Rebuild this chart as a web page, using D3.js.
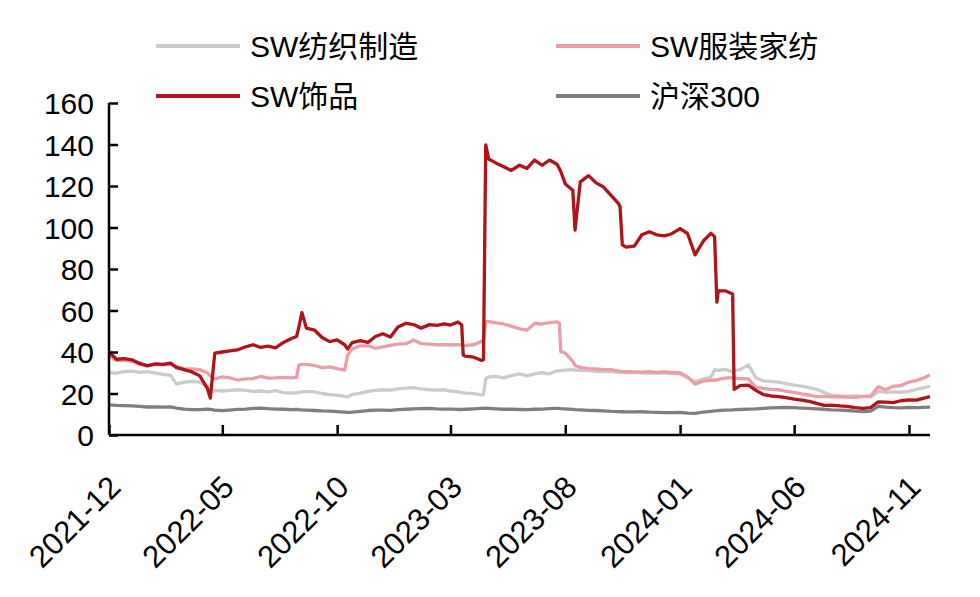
<!DOCTYPE html>
<html>
<head>
<meta charset="utf-8">
<script src="https://cdn.jsdelivr.net/npm/d3@7"></script>
<style>
  html, body { margin: 0; padding: 0; background: #ffffff; }
  svg { display: block; }
  text { font-family: "Liberation Sans", Arial, "Noto Sans CJK SC", sans-serif; }
</style>
</head>
<body>
<svg id="chart" width="980" height="597"></svg>
<script>

// observation dates (shared by all series)
const dates = [
  '2021-12-01', '2021-12-11', '2021-12-21',
  '2022-01-01', '2022-01-11', '2022-01-21',
  '2022-02-01', '2022-02-11', '2022-02-21',
  '2022-03-01', '2022-03-11', '2022-03-21',
  '2022-04-01', '2022-04-11', '2022-04-15', '2022-04-21',
  '2022-05-01', '2022-05-11', '2022-05-21',
  '2022-06-01', '2022-06-11', '2022-06-21',
  '2022-07-01', '2022-07-11', '2022-07-21',
  '2022-08-01', '2022-08-08', '2022-08-11', '2022-08-15', '2022-08-21',
  '2022-09-01', '2022-09-11', '2022-09-21',
  '2022-10-01', '2022-10-11', '2022-10-15', '2022-10-21',
  '2022-11-01', '2022-11-11', '2022-11-21',
  '2022-12-01', '2022-12-11', '2022-12-21',
  '2023-01-01', '2023-01-11', '2023-01-21',
  '2023-02-01', '2023-02-11', '2023-02-21',
  '2023-03-01', '2023-03-11', '2023-03-16', '2023-03-18', '2023-03-21',
  '2023-04-01', '2023-04-11', '2023-04-14', '2023-04-17', '2023-04-21',
  '2023-05-01', '2023-05-11', '2023-05-21',
  '2023-06-01', '2023-06-11', '2023-06-21',
  '2023-07-01', '2023-07-11', '2023-07-21', '2023-07-24', '2023-07-26',
  '2023-08-01', '2023-08-11', '2023-08-14', '2023-08-21',
  '2023-09-01', '2023-09-11', '2023-09-21',
  '2023-10-01', '2023-10-11', '2023-10-13', '2023-10-16', '2023-10-21',
  '2023-11-01', '2023-11-11', '2023-11-21',
  '2023-12-01', '2023-12-11', '2023-12-21',
  '2024-01-01', '2024-01-11', '2024-01-21',
  '2024-02-01', '2024-02-11', '2024-02-16', '2024-02-19', '2024-02-21',
  '2024-03-01', '2024-03-11', '2024-03-13', '2024-03-21',
  '2024-04-01', '2024-04-11', '2024-04-21',
  '2024-05-01', '2024-05-11', '2024-05-21',
  '2024-06-01', '2024-06-11', '2024-06-21',
  '2024-07-01', '2024-07-11', '2024-07-21',
  '2024-08-01', '2024-08-11', '2024-08-21',
  '2024-09-01', '2024-09-11', '2024-09-21',
  '2024-10-01', '2024-10-11', '2024-10-21',
  '2024-11-01', '2024-11-11', '2024-11-21', '2024-11-29'
];

// SW纺织制造
const textileValues = [
  30, 29.8, 30.5,
  30.8, 30.2, 30.5,
  29.8, 29.2, 28.8,
  24.5, 25.5, 25.8,
  25.5, 23.3, 20.5, 21.5,
  21.2, 21.5, 21.8,
  21.5, 21, 21.2,
  20.8, 21.4, 20.4,
  20.2, 20.4, 20.6, 20.8, 21,
  20.8, 20, 19.4,
  19.2, 18.6, 18.4, 19.5,
  20.2, 21, 21.5,
  21.8, 21.6, 22.2,
  22.6, 22.8, 22.2,
  21.8, 21.6, 21.8,
  21.2, 20.8, 20.5, 20.4, 20.2,
  20, 19.3, 19.5, 27, 28,
  28.2, 27.5, 28.6,
  29.5, 28.5, 29.5,
  30, 29.5, 31, 30.8, 31,
  31.2, 31.5, 31.3, 31.2,
  31, 30.7, 30.6,
  30.5, 30.3, 30.2, 30.2, 30,
  30.2, 30, 29.8,
  30, 29.8, 29.6,
  29.5, 27.5, 25.8,
  27, 27.8, 31.5, 31.3, 31.2,
  31.5, 30.5, 31, 31.5,
  33.8, 27.6, 26,
  25.8, 25.5, 24.8,
  24, 23.5, 22.8,
  22, 20.5, 19.2,
  18.8, 18.6, 18.8,
  18.5, 18.4, 21,
  20.5, 20.8, 20.6,
  21, 22, 22.8, 23.5
];

// SW服装家纺
const apparelValues = [
  38, 36, 36,
  35.5, 34, 33.5,
  34, 33.8, 34,
  33, 32, 31.8,
  31.5, 30, 28.5, 27,
  28, 27.5, 26.5,
  27, 27.2, 28.2,
  27.4, 27.5, 27.8,
  27.5, 27.8, 33.7, 34, 34,
  33.5, 32.5, 32.8,
  32, 31.3, 38.5, 41.5,
  43, 43, 41.8,
  42.5, 43.2, 43.8,
  44, 45.8, 44,
  43.8, 43.5, 43.6,
  43.4, 43.6, 43.5, 43.3, 43.2,
  43.5, 45, 45.8, 54.6, 54.6,
  54, 53.5, 52.5,
  51.2, 50.5, 53.8,
  53.5, 54.2, 54.5, 54, 40.2,
  39.5, 35.5, 33.5, 32.6,
  32, 31.8, 31.5,
  31.5, 30.8, 30.6, 30.5, 30.5,
  30.4, 30.3, 30.5,
  30.2, 30.4, 30.2,
  30, 28, 24.5,
  26, 26.3, 26.5, 26.5, 26.8,
  27.4, 27.6, 27.4, 27.2,
  27, 23, 22.5,
  22, 21.8, 21.2,
  20.5, 19.8, 19.2,
  18.5, 18.6, 18.4,
  18.5, 18.3, 18.2,
  18.6, 18.8, 23.3,
  21.8, 23.5, 23.8,
  25.5, 26.3, 27.5, 29
];

// SW饰品
const jewelryValues = [
  40, 36.5, 36.8,
  36.2, 34.5, 33.3,
  34.3, 34, 34.6,
  32.5, 31.5, 30.5,
  28.5, 22.5, 17.8, 39.5,
  40, 40.5, 41,
  42.5, 43.5, 42.2,
  42.8, 42, 44.5,
  46.5, 47.5, 52, 59, 51.5,
  50.5, 47, 45,
  45.8, 43.5, 41.4, 44.5,
  45.5, 44.6, 47.5,
  48.8, 47.2, 52,
  53.8, 53.2, 51.5,
  53.2, 52.8, 53.5,
  53, 54.5, 53, 38.5, 38,
  37.5, 36, 36.3, 139.8, 133,
  131, 129.3, 127.5,
  130, 128.5, 132.5,
  130, 132.5, 130.5, 128.5, 127,
  121, 118, 98.8, 122,
  125, 121.5, 119.5,
  115.5, 111.5, 110, 91.6, 90.5,
  91, 96.5, 98,
  96.5, 96, 97,
  99.5, 97, 86.8,
  93.5, 97.2, 95.6, 64, 69.5,
  69.5, 68, 22, 23.8,
  24, 21.5, 19.5,
  18.8, 18.5, 18,
  17.3, 16.8, 16.2,
  15.2, 14.3, 14.4,
  14, 13.8, 13.2,
  12.8, 13.2, 16,
  15.8, 15.6, 16.5,
  16.9, 16.8, 17.8, 18.5
];

// 沪深300
const csi300Values = [
  14.5, 14.3, 14.2,
  14, 13.8, 13.5,
  13.6, 13.4, 13.5,
  13, 12.5, 12.2,
  12.2, 12.5, 12.3, 12,
  11.7, 12, 12.3,
  12.5, 12.8, 13,
  12.7, 12.5, 12.4,
  12.2, 12.3, 12.2, 12.1, 12,
  11.8, 11.6, 11.5,
  11.3, 11, 10.9, 11,
  11.4, 11.8, 12,
  12, 11.9, 12.2,
  12.4, 12.6, 12.7,
  12.8, 12.6, 12.5,
  12.5, 12.3, 12.3, 12.3, 12.4,
  12.6, 12.8, 12.8, 12.9, 12.8,
  12.6, 12.4, 12.4,
  12.3, 12.2, 12.4,
  12.5, 12.7, 12.8, 12.8, 12.7,
  12.6, 12.3, 12.2, 12.1,
  11.9, 11.8, 11.6,
  11.4, 11.3, 11.2, 11.2, 11.1,
  11.1, 11.2, 11,
  10.9, 10.8, 10.8,
  10.9, 10.5, 10.4,
  11, 11.4, 11.6, 11.7, 11.8,
  12, 12.1, 12.2, 12.3,
  12.5, 12.6, 12.8,
  13.1, 13.2, 13.3,
  13.2, 13, 12.8,
  12.6, 12.4, 12.1,
  12, 11.8, 11.5,
  11.3, 11.5, 13.8,
  13.4, 13.2, 13.1,
  13.3, 13.2, 13.3, 13.4
];

const seriesNames = ['SW纺织制造', 'SW服装家纺', 'SW饰品', '沪深300'];
const xTickLabels = ['2021-12', '2022-05', '2022-10', '2023-03', '2023-08', '2024-01', '2024-06', '2024-11'];
const yTickValues = [0, 20, 40, 60, 80, 100, 120, 140, 160];


/**
 * @class
 */
class ValuationChart {


  /**
   * @constructor
   * @param {SVGElement} svg
   */
  constructor(svg) {

    this._svg = d3.select(svg);
    this._margin = { left: 109, right: 50, top: 103, bottom: 162 };
    this._colors = ['#cbcbcb', '#eb9ea7', '#af141b', '#7f7f7f'];
    this._fontSize = 30;
  }


  /**
   * Set data.
   * @param {Array} series
   * @returns {ValuationChart}
   */
  setData(series) {

    this._series = series;
    return this;
  }


  /**
   * Build scales.
   * @returns {ValuationChart}
   */
  buildScales() {

    const width = +this._svg.attr('width');
    const height = +this._svg.attr('height');
    const parse = d3.timeParse('%Y-%m-%d');

    this._dates = dates.map(parse);

    this._xScale = d3.scaleTime()
      .domain(d3.extent(this._dates))
      .range([this._margin.left, width - this._margin.right]);

    this._yScale = d3.scaleLinear()
      .domain([0, 160])
      .range([height - this._margin.bottom, this._margin.top]);

    return this;
  }


  /**
   * Render everything.
   * @returns {ValuationChart}
   */
  render() {

    this.buildScales();
    this.renderLines();
    this.renderAxes();
    this.renderLegend();
    return this;
  }


  /**
   * Draw the four series.
   * @returns {ValuationChart}
   */
  renderLines() {

    const line = d3.line()
      .x((d, i) => this._xScale(this._dates[i]))
      .y(d => this._yScale(d));

    this._svg.append('g')
      .attr('class', 'lines')
      .selectAll('path')
      .data(this._series)
      .enter()
      .append('path')
      .attr('d', d => line(d.values))
      .style('fill', 'none')
      .style('stroke', (d, i) => this._colors[i])
      .style('stroke-width', 3.3)
      .style('stroke-linejoin', 'round');

    return this;
  }


  /**
   * Draw axes with inward ticks.
   * @returns {ValuationChart}
   */
  renderAxes() {

    const y0 = this._yScale(0);
    const parseMonth = d3.timeParse('%Y-%m');

    const yAxis = d3.axisLeft(this._yScale)
      .tickValues(yTickValues)
      .tickSize(-9)
      .tickPadding(15);

    const yAxisG = this._svg.append('g')
      .attr('transform', `translate(${this._margin.left},0)`)
      .call(yAxis);

    yAxisG.select('.domain')
      .attr('d', `M0,${this._yScale(160)}V${y0}`)
      .style('stroke', '#000')
      .style('stroke-width', 2.5);

    yAxisG.selectAll('.tick line')
      .style('stroke', '#000')
      .style('stroke-width', 2.5);

    yAxisG.selectAll('.tick text')
      .style('font-size', this._fontSize + 'px')
      .style('fill', '#000')
      .attr('dy', '0.35em');

    const xAxis = d3.axisBottom(this._xScale)
      .tickValues(xTickLabels.map(parseMonth))
      .tickSize(-10)
      .tickFormat(d3.timeFormat('%Y-%m'));

    const xAxisG = this._svg.append('g')
      .attr('transform', `translate(0,${y0})`)
      .call(xAxis);

    xAxisG.select('.domain')
      .attr('d', `M${this._margin.left},0H${this._xScale.range()[1]}`)
      .style('stroke', '#000')
      .style('stroke-width', 2.5);

    xAxisG.selectAll('.tick line')
      .style('stroke', '#000')
      .style('stroke-width', 2.5);

    xAxisG.selectAll('.tick text')
      .style('font-size', '31px')
      .style('fill', '#000')
      .attr('text-anchor', 'end')
      .attr('x', 0)
      .attr('y', 0)
      .attr('dy', 0)
      .attr('transform', 'translate(13,54) rotate(-45)');

    return this;
  }


  /**
   * Draw two-column legend.
   * @returns {ValuationChart}
   */
  renderLegend() {

    const items = this._svg.append('g')
      .attr('class', 'legend')
      .selectAll('g')
      .data(this._series)
      .enter()
      .append('g')
      .attr('transform', (d, i) => `translate(${156 + (i % 2) * 400},${46 + Math.floor(i / 2) * 50})`);

    items.append('line')
      .attr('x1', 0)
      .attr('x2', 84)
      .style('stroke', (d, i) => this._colors[i])
      .style('stroke-width', 4);

    items.append('text')
      .attr('x', 94)
      .attr('dy', '0.36em')
      .style('font-size', this._fontSize + 'px')
      .style('fill', '#000')
      .text(d => d.name);

    return this;
  }
}


const chart = new ValuationChart(document.getElementById('chart'))
  .setData([
    { name: seriesNames[0], values: textileValues },
    { name: seriesNames[1], values: apparelValues },
    { name: seriesNames[2], values: jewelryValues },
    { name: seriesNames[3], values: csi300Values }
  ])
  .render();

</script>
</body>
</html>
